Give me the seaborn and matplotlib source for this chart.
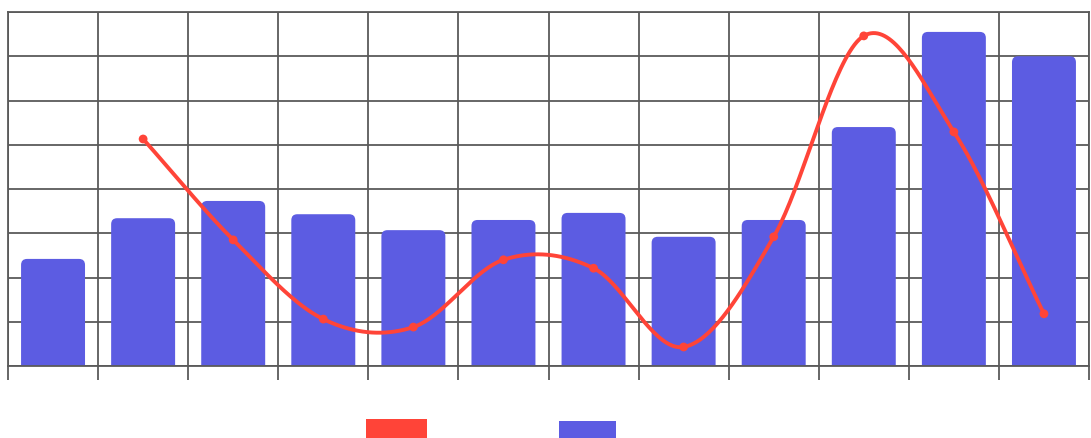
import numpy as np
import pandas as pd
import matplotlib
matplotlib.use("Agg")
import matplotlib.pyplot as plt
from matplotlib.patches import FancyBboxPatch, Patch
import seaborn as sns

# Monthly figures
categories = ["1月", "2月", "3月", "4月", "5月", "6月", "7月", "8月", "9月", "10月", "11月", "12月"]
bar_values = [2.42, 3.34, 3.73, 3.43, 3.07, 3.30, 3.46, 2.92, 3.30, 5.40, 7.55, 7.00]
line_categories = categories[1:]
line_values = [5.13, 2.85, 1.06, 0.88, 2.40, 2.21, 0.43, 2.92, 7.46, 5.29, 1.18]

BAR_COLOR = "#5c5ce2"
LINE_COLOR = "#ff4438"
GRID_COLOR = "#5a5a5a"

sns.set_theme(style="white")
fig = plt.figure(figsize=(10.91, 4.39), dpi=100)
ax = fig.add_axes([8 / 1091, 1 - 367 / 439, 1081 / 1091, 354 / 439])

df = pd.DataFrame({"cat": categories, "val": bar_values})
sns.barplot(data=df, x="cat", y="val", color=BAR_COLOR, width=0.71,
            saturation=1, ax=ax, zorder=2)

# Swap the plain rectangles for bars with rounded top corners
px_x = 1081 / 12
px_y = 354 / 8
radius_px = 6
rx = radius_px / px_x
ry = radius_px / px_y
for p in list(ax.patches):
    x0, w, h = p.get_x(), p.get_width(), p.get_height()
    p.remove()
    ax.add_patch(FancyBboxPatch((x0, -1), w, h + 1,
                                boxstyle=f"round,pad=0,rounding_size={rx}",
                                mutation_aspect=ry / rx,
                                facecolor=BAR_COLOR, edgecolor="none", zorder=2))

# Smooth Catmull-Rom curve through the line points
xs = np.array([categories.index(c) for c in line_categories], dtype=float)
ys = np.array(line_values, dtype=float)
P = np.column_stack([xs, ys])
Pext = np.vstack([2 * P[0] - P[1], P, 2 * P[-1] - P[-2]])
curve = []
t = np.linspace(0, 1, 40)[:, None]
for i in range(1, len(Pext) - 2):
    p0, p1, p2, p3 = Pext[i - 1], Pext[i], Pext[i + 1], Pext[i + 2]
    seg = 0.5 * ((2 * p1) + (-p0 + p2) * t + (2 * p0 - 5 * p1 + 4 * p2 - p3) * t ** 2
                 + (-p0 + 3 * p1 - 3 * p2 + p3) * t ** 3)
    curve.append(seg)
curve = np.vstack(curve)
ax.plot(curve[:, 0], curve[:, 1], color=LINE_COLOR, lw=2.8, zorder=4,
        solid_capstyle="round")
sns.scatterplot(x=xs, y=ys, color=LINE_COLOR, s=40, edgecolor="none", ax=ax, zorder=5)

ax.set_xlim(-0.5, 11.5)
ax.set_ylim(0, 8)
ax.set_xticks(np.arange(-0.5, 12, 1))
ax.set_yticks(np.arange(0, 9, 1))
ax.set_xticklabels([])
ax.set_yticklabels([])
ax.set_xlabel("")
ax.set_ylabel("")
ax.grid(True, color=GRID_COLOR, lw=1.3, zorder=1)
ax.set_axisbelow(True)
ax.tick_params(axis="x", length=10, width=1.3, color=GRID_COLOR, bottom=True)
ax.tick_params(axis="y", length=0)
for s in ax.spines.values():
    s.set_color(GRID_COLOR)
    s.set_linewidth(1.3)
ax.spines["bottom"].set_zorder(3)

# Legend swatches along the bottom edge
fig.patches.append(plt.Rectangle((366 / 1091, 0), 61 / 1091, 19 / 439,
                                 transform=fig.transFigure, facecolor=LINE_COLOR,
                                 edgecolor="none"))
fig.patches.append(plt.Rectangle((559 / 1091, 0), 57 / 1091, 17 / 439,
                                 transform=fig.transFigure, facecolor=BAR_COLOR,
                                 edgecolor="none"))

fig.savefig("out.png", dpi=100)
